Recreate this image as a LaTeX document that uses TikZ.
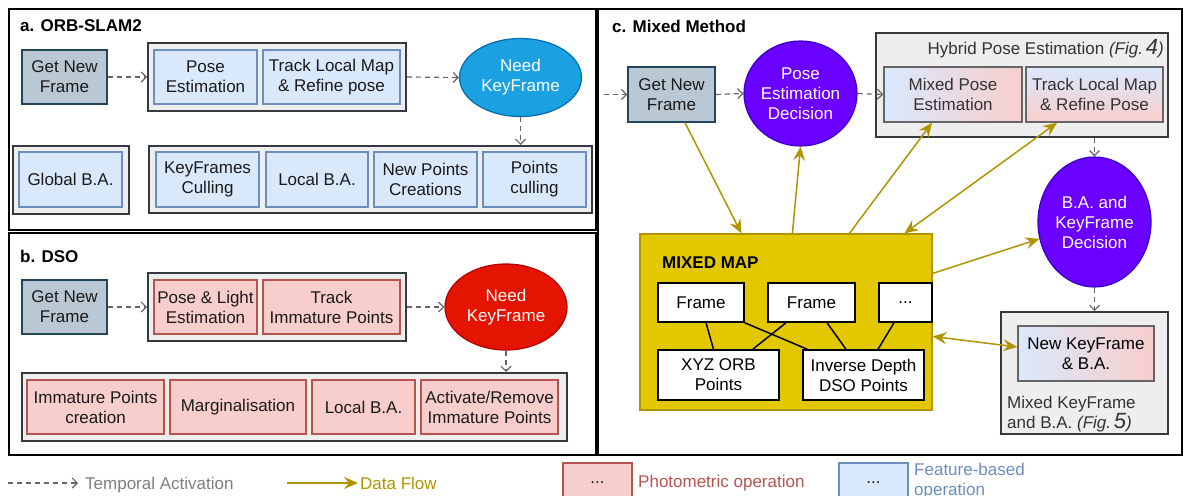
\documentclass[tikz,border=0pt]{standalone}
\usepackage{fontspec}
\setmainfont{Liberation Sans}
\usetikzlibrary{shapes.geometric,arrows.meta}
\definecolor{bfill}{HTML}{DAE8FC}
\definecolor{bdraw}{HTML}{6C8EBF}
\definecolor{rfill}{HTML}{F8CECC}
\definecolor{rdraw}{HTML}{B85450}
\definecolor{gfill}{HTML}{EEEEEE}
\definecolor{gdraw}{HTML}{36393D}
\definecolor{sfill}{HTML}{BAC8D3}
\definecolor{sdraw}{HTML}{23445D}
\definecolor{cyanf}{HTML}{1BA1E2}
\definecolor{cyand}{HTML}{006EAF}
\definecolor{redf}{HTML}{E51400}
\definecolor{redd}{HTML}{B20000}
\definecolor{purf}{HTML}{6A00FF}
\definecolor{purd}{HTML}{3700CC}
\definecolor{mapf}{HTML}{E3C800}
\definecolor{flowc}{HTML}{B09500}
\definecolor{txt}{HTML}{1A1A1A}
\definecolor{dtxt}{HTML}{333333}
\definecolor{tgray}{HTML}{808080}
\definecolor{mixd}{HTML}{666666}
\begin{document}
\begin{tikzpicture}[x=1pt,y=-1pt,
  base/.style={rectangle, align=center, inner sep=0pt, font=\fontsize{17}{20}\selectfont, text=txt},
  panel/.style={base, draw=black, line width=1.5pt, fill=white},
  grp/.style={base, draw=gdraw, fill=gfill, line width=2pt},
  bluebox/.style={base, draw=bdraw, fill=bfill, line width=1.5pt},
  redbox/.style={base, draw=rdraw, fill=rfill, line width=1.5pt},
  gnf/.style={base, draw=sdraw, fill=sfill, line width=1.5pt},
  mixbox/.style={base, draw=mixd, line width=1.5pt, text=dtxt},
  whitebox/.style={base, draw=black, fill=white, line width=1.5pt, text=black},
  ell/.style={ellipse, align=center, inner sep=0pt, font=\fontsize{17}{20}\selectfont, text=white, line width=1.2pt},
  ttl/.style={anchor=base west, inner sep=0pt, font=\fontsize{17}{20}\selectfont\bfseries, text=black},
  tact/.style={draw=mixd, line width=1.2pt, dash pattern=on 5pt off 4pt, -{Straight Barb[length=5pt,width=10pt]}},
  flow/.style={draw=flowc, line width=1.5pt, -{Stealth[length=14pt,width=12pt,inset=5pt]}},
  dflow/.style={draw=flowc, line width=1.5pt, {Stealth[length=14pt,width=12pt,inset=5pt]}-{Stealth[length=14pt,width=12pt,inset=5pt]}},
  lgtxt/.style={anchor=base west, inner sep=0pt, font=\fontsize{17}{20}\selectfont}
]
\clip (0,0) rectangle (1185,495);
\fill[white] (0,0) rectangle (1185,495);

% ---------- panels ----------
\node[panel, minimum width=587pt, minimum height=221pt] (pa) at (302.5,119.5) {};
\node[panel, minimum width=587pt, minimum height=222pt] (pb) at (302.5,344) {};
\node[panel, minimum width=584pt, minimum height=446pt] (pc) at (890,232) {};

% ---------- a. ORB-SLAM2 ----------
\node[ttl] (ta) at (20,32) {a. ORB-SLAM2};
\node[gnf, minimum width=85pt, minimum height=54pt] (gnfA) at (64.5,77) {Get New\\Frame};
\node[grp, minimum width=258pt, minimum height=68pt] (grpA1) at (277,77) {};
\node[bluebox, minimum width=103pt, minimum height=54pt] (poseA) at (205.5,77) {Pose\\Estimation};
\node[bluebox, minimum width=137pt, minimum height=54pt] (trackA) at (331.5,77) {Track Local Map\\\& Refine pose};
\node[ell, draw=cyand, fill=cyanf, minimum width=122pt, minimum height=78pt] (needA) at (520.5,77.5) {Need\\KeyFrame};
\node[grp, minimum width=116pt, minimum height=68pt] (grpG) at (71,180) {};
\node[bluebox, minimum width=103pt, minimum height=55pt] (globA) at (70.5,179.5) {Global B.A.};
\node[grp, minimum width=443pt, minimum height=67pt] (grpA2) at (370.5,179.5) {};
\node[bluebox, minimum width=103pt, minimum height=55pt] (kfA) at (207.5,179.5) {KeyFrames\\Culling};
\node[bluebox, minimum width=102pt, minimum height=55pt] (lbaA) at (317,179.5) {Local B.A.};
\node[bluebox, minimum width=103pt, minimum height=55pt] (npA) at (425.5,179.5) {New Points\\Creations};
\node[bluebox, minimum width=103pt, minimum height=55pt] (pcA) at (534.5,179.5) {Points\\culling};
\draw[tact] (gnfA.east) -- (grpA1.west);
\draw[tact] (grpA1.east) -- (needA.west);
\draw[tact] (needA.south) -- (needA.south |- grpA2.north);

% ---------- b. DSO ----------
\node[ttl] (tb) at (20,262) {b. DSO};
\node[gnf, minimum width=85pt, minimum height=54pt] (gnfB) at (64.5,307) {Get New\\Frame};
\node[grp, minimum width=258pt, minimum height=68pt] (grpB1) at (277,307) {};
\node[redbox, minimum width=103pt, minimum height=54pt] (poseB) at (205.5,307) {Pose \& Light\\Estimation};
\node[redbox, minimum width=137pt, minimum height=54pt] (trackB) at (331.5,307) {Track\\Immature Points};
\node[ell, draw=redd, fill=redf, minimum width=122pt, minimum height=86pt] (needB) at (506,307) {Need\\KeyFrame};
\node[grp, minimum width=545pt, minimum height=68pt] (grpB2) at (294.5,407) {};
\node[redbox, minimum width=137pt, minimum height=54pt] (immB) at (95.5,407) {Immature Points\\creation};
\node[redbox, minimum width=136pt, minimum height=54pt] (margB) at (238,407) {Marginalisation};
\node[redbox, minimum width=103pt, minimum height=54pt] (lbaB) at (363.5,407) {Local B.A.};
\node[redbox, minimum width=137pt, minimum height=54pt] (actB) at (489.5,407) {Activate/Remove\\Immature Points};
\draw[tact] (gnfB.east) -- (grpB1.west);
\draw[tact] (grpB1.east) -- (needB.west);
\draw[tact] (needB.south) -- (needB.south |- grpB2.north);

% ---------- c. Mixed Method ----------
\node[ttl] (tc) at (612,33) {c. Mixed Method};
\coordinate (cin) at (604,94.5);
\node[gnf, minimum width=87pt, minimum height=55pt] (gnfC) at (671.5,94.5) {Get New\\Frame};
\node[ell, draw=purd, fill=purf, minimum width=113pt, minimum height=105pt] (poseDec) at (800.5,93.5) {Pose\\Estimation\\Decision};
\node[grp, minimum width=292pt, minimum height=104pt] (hyb) at (1022,85) {};
\node[anchor=base east, inner sep=0pt, font=\fontsize{17}{20}\selectfont, text=dtxt] (hybt) at (1164,55) {Hybrid Pose Estimation \textit{(Fig.}\,{\fontsize{22}{20}\selectfont\itshape 4}\textit{)}};
\node[mixbox, left color=bfill, right color=rfill, minimum width=138pt, minimum height=55pt] (mixPose) at (953,94.5) {Mixed Pose\\Estimation};
\node[mixbox, top color=bfill, bottom color=rfill, minimum width=137pt, minimum height=55pt] (trackC) at (1094.5,94.5) {Track Local Map\\\& Refine Pose};
\node[ell, draw=purd, fill=purf, minimum width=113pt, minimum height=130pt] (baDec) at (1094.5,222) {B.A. and\\KeyFrame\\Decision};
\node[grp, minimum width=167pt, minimum height=122pt] (mkf) at (1084.5,373) {};
\node[mixbox, text=black, left color=bfill, right color=rfill, minimum width=136pt, minimum height=55pt] (newKF) at (1086,353.5) {New KeyFrame\\\& B.A.};
\node[anchor=base west, inner sep=0pt, align=left, font=\fontsize{17}{20}\selectfont, text=dtxt] (mkft) at (1007,428) {Mixed KeyFrame\\and B.A. \textit{(Fig.}\,{\fontsize{22}{20}\selectfont\itshape 5}\textit{)}};

% mixed map
\node[base, draw=flowc, fill=mapf, line width=1.2pt, minimum width=292pt, minimum height=176pt] (map) at (786,322) {};
\node[ttl] (mapt) at (662,268) {MIXED MAP};
\node[whitebox, minimum width=86pt, minimum height=39pt] (fr1) at (701,302.5) {Frame};
\node[whitebox, minimum width=87pt, minimum height=39pt] (fr2) at (811.5,302.5) {Frame};
\node[whitebox, minimum width=53pt, minimum height=39pt] (fr3) at (905.5,302.5) {...};
\node[whitebox, minimum width=121pt, minimum height=50pt] (xyz) at (718.5,375) {XYZ ORB\\Points};
\node[whitebox, minimum width=121pt, minimum height=50pt] (inv) at (863.5,375) {Inverse Depth\\DSO Points};
\begin{scope}[line width=1.5pt, draw=black]
\draw ([xshift=5pt]fr1.south) -- ([xshift=-5pt]xyz.north);
\draw (fr1.south east) -- ([xshift=5pt]inv.north west);
\draw ([xshift=-25.5pt]fr2.south) -- ([xshift=-27pt]xyz.north east);
\draw ([xshift=15.5pt]fr2.south) -- ([xshift=-17.5pt]inv.north);
\draw ([xshift=-11.5pt]fr3.south) -- ([xshift=14.5pt]inv.north);
\end{scope}

% temporal activation arrows c
\draw[tact] (cin) -- (gnfC.west);
\draw[tact] (gnfC.east) -- (poseDec.west);
\draw[tact] (poseDec.east) -- (mixPose.west);
\draw[tact] (baDec.north |- hyb.south) -- (baDec.north);
\draw[tact] (baDec.south) -- (baDec.south |- mkf.north);

% data flow
\draw[flow] ([xshift=13.5pt]gnfC.south) -- ([xshift=102pt]map.north west);
\draw[flow] ([xshift=153pt]map.north west) -- (poseDec.south);
\draw[flow] ([xshift=210pt]map.north west) -- ([xshift=-21pt]mixPose.south);
\draw[dflow] ([xshift=265pt]map.north west) -- ([xshift=-37.5pt]trackC.south);
\draw[flow] ([yshift=-40pt]map.north east) -- (baDec.197);
\draw[dflow] ([yshift=-103pt]map.north east) -- ([yshift=6.5pt]newKF.west);

% ---------- legend ----------
\coordinate (l1a) at (8,483);
\coordinate (l1b) at (78,483);
\draw[tact] (l1a) -- (l1b);
\node[lgtxt, text=tgray] (l1t) at (85,489) {Temporal Activation};
\coordinate (l2a) at (287,483);
\coordinate (l2b) at (358,483);
\draw[flow] (l2a) -- (l2b);
\node[lgtxt, text=flowc] (l2t) at (360,489) {Data Flow};
\node[redbox, minimum width=69pt, minimum height=40pt] (l3) at (597.5,483) {...};
\node[lgtxt, text=rdraw] (l3t) at (638,487) {Photometric operation};
\node[bluebox, minimum width=69pt, minimum height=40pt] (l4) at (873.5,483) {...};
\node[lgtxt, text=bdraw, align=left] (l4t) at (914,495) {Feature-based\\operation};
\end{tikzpicture}
\end{document}
